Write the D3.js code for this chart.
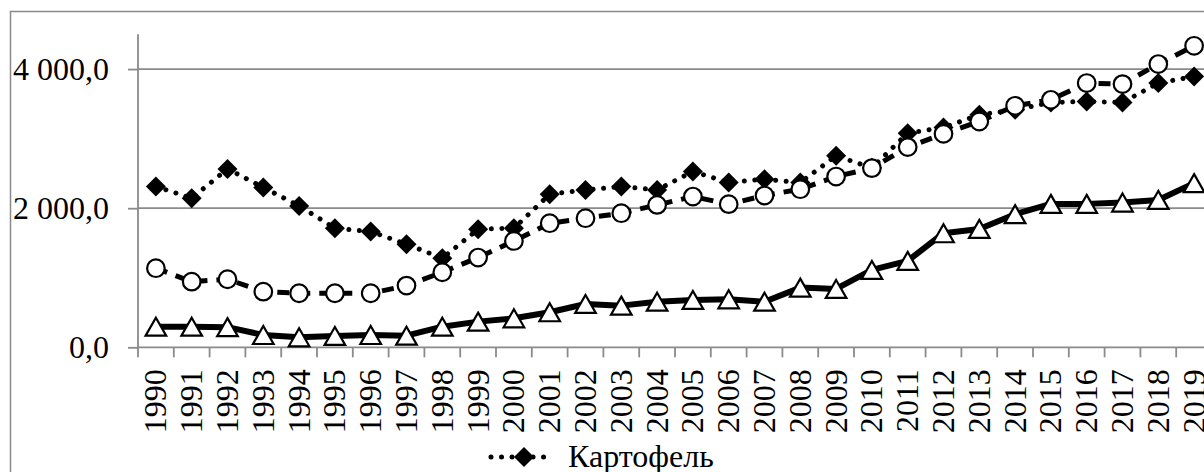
<!DOCTYPE html>
<html>
<head>
<meta charset="utf-8">
<script src="https://cdn.jsdelivr.net/npm/d3@7"></script>
<style>
  body { margin: 0; background: #fff; }
  text { font-family: "Liberation Serif", "Times New Roman", serif; fill: #000; }
</style>
</head>
<body>
<script>
// categories and series
var years = ["1990","1991","1992","1993","1994","1995","1996","1997","1998","1999",
             "2000","2001","2002","2003","2004","2005","2006","2007","2008","2009",
             "2010","2011","2012","2013","2014","2015","2016","2017","2018","2019"];

// Картофель (diamonds, dotted)
var potato = [2311,2144,2565,2297,2033,1712,1664,1482,1281,1698,
              1712,2201,2263,2311,2263,2527,2369,2417,2369,2753,
              2580,3079,3160,3342,3414,3520,3534,3520,3799,3894];

// second series (open circles, dashed)
var seriesB = [1137,944,978,800,777,777,777,887,1079,1290,
               1529,1784,1856,1928,2047,2167,2058,2182,2273,2455,
               2576,2878,3069,3246,3472,3558,3799,3784,4072,4335];

// third series (open triangles, solid)
var seriesC = [296,296,290,177,144,163,177,167,296,369,
               417,504,623,599,656,681,690,656,858,839,
               1112,1242,1640,1702,1914,2062,2062,2081,2119,2360];

var yTicks = [0, 2000, 4000];
var legendName = "Картофель";

window.onload = function(){
    var w = 1204, h = 472;
    var left = 138, bottom = 347.3, top = 34.3;
    var step = 35.8;
    var grey = "#8a8a8a";
    var fs = "32px";

    var svg = d3.select("body").append("svg")
        .attr("width", w)
        .attr("height", h);

    svg.append("rect").attr("width", w).attr("height", h).attr("fill", "#fff");

    // outer chart frame (runs off the canvas right and bottom)
    svg.append("rect")
        .attr("x", 10.5).attr("y", 11.5)
        .attr("width", 1260).attr("height", 520)
        .attr("fill", "none")
        .attr("stroke", grey)
        .attr("stroke-width", 1.5);

    var x = d3.scaleBand()
        .domain(years)
        .range([left, left + step * years.length])
        .padding(0);

    var y = d3.scaleLinear()
        .domain([0, 4500])
        .range([bottom, top]);

    var ru = d3.formatLocale({decimal: ",", thousands: " ", grouping: [3], currency: ["", ""]});
    var fmt = ru.format(",.1f");

    // gridlines
    svg.selectAll(".grid")
        .data(yTicks.filter(function(d){ return d > 0; }))
        .enter().append("line")
        .attr("class", "grid")
        .attr("x1", left).attr("x2", w)
        .attr("y1", function(d){ return y(d); })
        .attr("y2", function(d){ return y(d); })
        .attr("stroke", grey)
        .attr("stroke-width", 1.8);

    // y axis
    var yAxis = d3.axisLeft(y)
        .tickValues(yTicks)
        .tickFormat(fmt)
        .tickSize(10)
        .tickPadding(19);

    var gy = svg.append("g")
        .attr("transform", "translate(" + left + ",0)")
        .call(yAxis);
    gy.select(".domain").attr("stroke", grey).attr("stroke-width", 1.8).attr("d", "M0," + top + "V" + bottom);
    gy.selectAll(".tick line").attr("stroke", grey).attr("stroke-width", 1.8);
    gy.selectAll(".tick text")
        .style("font-family", "'Liberation Serif', serif")
        .style("font-size", fs)
        .attr("dy", "0.33em");

    // x axis line and ticks between categories
    svg.append("line")
        .attr("x1", left).attr("x2", w)
        .attr("y1", bottom).attr("y2", bottom)
        .attr("stroke", grey).attr("stroke-width", 1.8);

    svg.selectAll(".xtick")
        .data(years.concat(["end"]))
        .enter().append("line")
        .attr("class", "xtick")
        .attr("x1", function(d, i){ return i < years.length ? x(d) : x(years[years.length-1]) + x.bandwidth(); })
        .attr("x2", function(d, i){ return i < years.length ? x(d) : x(years[years.length-1]) + x.bandwidth(); })
        .attr("y1", bottom).attr("y2", bottom + 10)
        .attr("stroke", grey).attr("stroke-width", 1.8);

    // x labels, rotated
    var xAxis = d3.axisBottom(x).tickSize(0).tickPadding(0);
    var gx = svg.append("g")
        .attr("transform", "translate(0," + bottom + ")")
        .call(xAxis);
    gx.select(".domain").remove();
    gx.selectAll(".tick text")
        .style("font-family", "'Liberation Serif', serif")
        .style("font-size", fs)
        .attr("text-anchor", "end")
        .attr("transform", "rotate(-90)")
        .attr("x", -22)
        .attr("y", 0)
        .attr("dy", "0.33em");

    var cx = function(d, i){ return x(years[i]) + x.bandwidth() / 2; };

    var line = function(vals){
        return d3.line()
            .x(function(d, i){ return cx(d, i); })
            .y(function(d){ return y(d); })(vals);
    };

    var diamond = "M0,-10L10,0L0,10L-10,0Z";
    var triangle = "M0,-9L10.3,9L-10.3,9Z";

    // series 1: Картофель
    svg.append("path")
        .attr("d", line(potato))
        .attr("fill", "none")
        .attr("stroke", "#000")
        .attr("stroke-width", 5)
        .attr("stroke-linecap", "round")
        .attr("stroke-dasharray", "0.01,10.5");
    svg.selectAll(".dia")
        .data(potato)
        .enter().append("path")
        .attr("class", "dia")
        .attr("d", diamond)
        .attr("transform", function(d, i){ return "translate(" + cx(d, i) + "," + y(d) + ")"; })
        .attr("fill", "#000");

    // series 2: circles
    svg.append("path")
        .attr("d", line(seriesB))
        .attr("fill", "none")
        .attr("stroke", "#000")
        .attr("stroke-width", 5)
        .attr("stroke-dasharray", "12,9");
    svg.selectAll(".circ")
        .data(seriesB)
        .enter().append("circle")
        .attr("class", "circ")
        .attr("cx", cx)
        .attr("cy", function(d){ return y(d); })
        .attr("r", 8.8)
        .attr("fill", "#fff")
        .attr("stroke", "#000")
        .attr("stroke-width", 2.2);

    // series 3: triangles
    svg.append("path")
        .attr("d", line(seriesC))
        .attr("fill", "none")
        .attr("stroke", "#000")
        .attr("stroke-width", 6)
        .attr("stroke-linejoin", "round");
    svg.selectAll(".tri")
        .data(seriesC)
        .enter().append("path")
        .attr("class", "tri")
        .attr("d", triangle)
        .attr("transform", function(d, i){ return "translate(" + cx(d, i) + "," + y(d) + ")"; })
        .attr("fill", "#fff")
        .attr("stroke", "#000")
        .attr("stroke-width", 2.2)
        .attr("stroke-linejoin", "miter");

    // legend (only first entry fits on the canvas)
    var lg = svg.append("g").attr("transform", "translate(0,457)");
    lg.append("line")
        .attr("x1", 491).attr("x2", 553)
        .attr("y1", 0).attr("y2", 0)
        .attr("stroke", "#000")
        .attr("stroke-width", 5)
        .attr("stroke-linecap", "round")
        .attr("stroke-dasharray", "0.01,10.5");
    lg.append("path")
        .attr("d", diamond)
        .attr("transform", "translate(524,0)")
        .attr("fill", "#000");
    lg.append("text")
        .attr("x", 568)
        .attr("y", 10)
        .style("font-size", fs)
        .text(legendName);
};
</script>
</body>
</html>
